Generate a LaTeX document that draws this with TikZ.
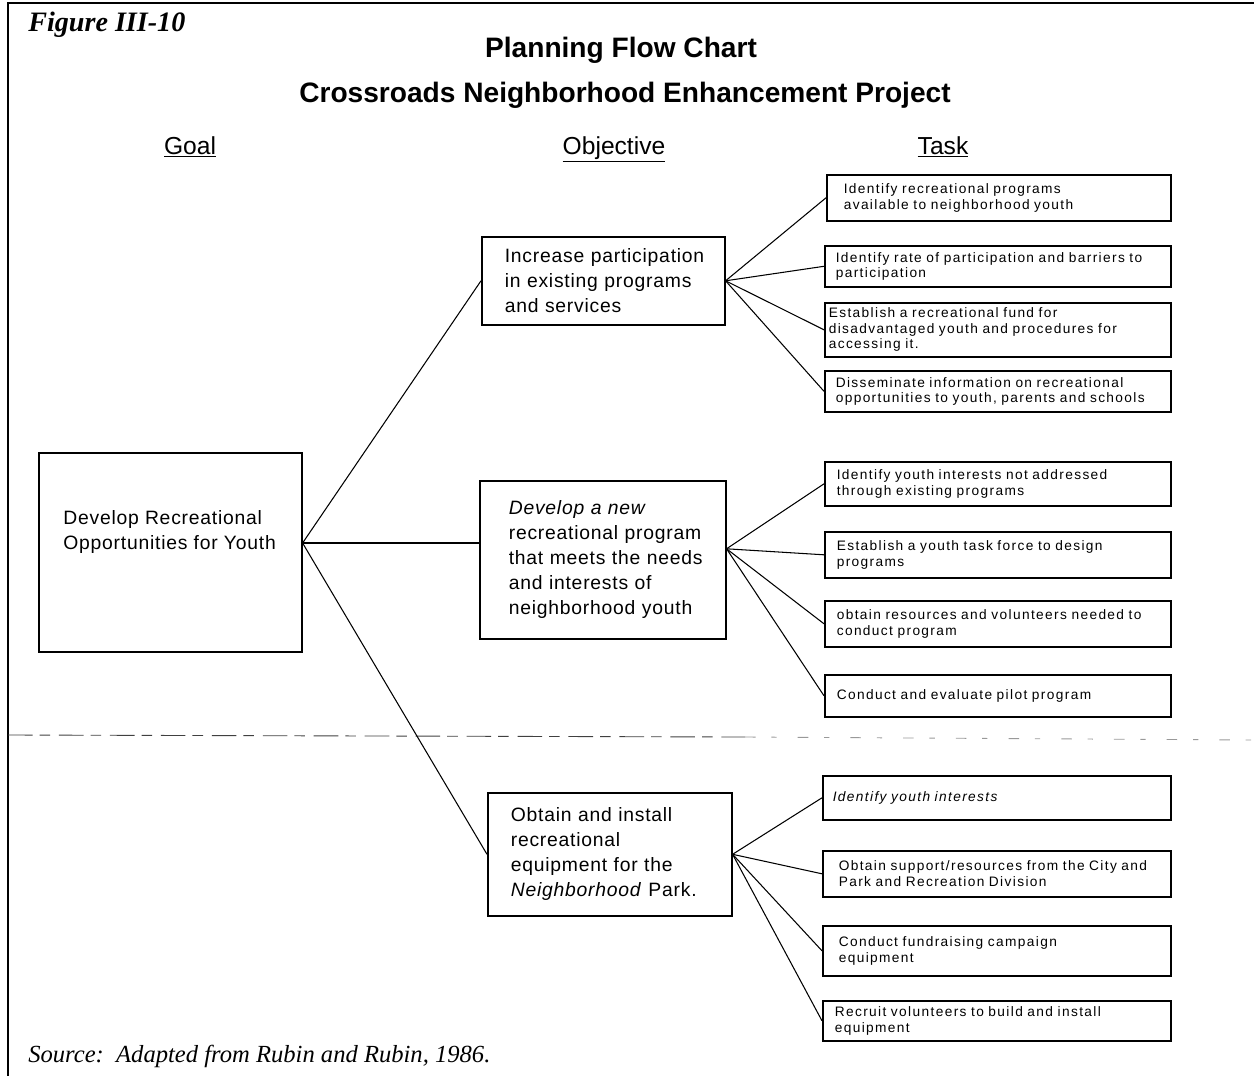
\documentclass[tikz,border=0pt]{standalone}
\usepackage{fontspec}
\usetikzlibrary{calc}
\setmainfont{Liberation Serif}
\newfontfamily\sansf{Liberation Sans}
\newfontfamily\objf[LetterSpace=4]{Liberation Sans}
\newfontfamily\taskf[LetterSpace=10]{Liberation Sans}

% \place{style}{name}{x}{y}{width}{height}{left margin}{text}
% positions and sizes in picture units (0.02cm)
\newcommand\place[8]{%
  \pgfmathsetmacro\boxW{#5*0.02}%
  \pgfmathsetmacro\boxH{#6*0.02}%
  \pgfmathsetmacro\boxM{#7*0.02}%
  \pgfmathsetmacro\boxI{(#5-#7)*0.02}%
  \node[#1, anchor=north west, minimum height=\boxH cm,
        text width=\boxW cm, inner xsep=0pt] (#2) at (#3,#4)
        {\noindent\hspace*{\boxM cm}\parbox[c]{\boxI cm}{\raggedright #8}};}

\begin{document}
\begin{tikzpicture}[x=0.02cm, y=-0.02cm,
  framestyle/.style={line width=1.6pt},
  titletext/.style={font=\sansf\bfseries\fontsize{16}{20}\selectfont},
  headtext/.style={font=\sansf\fontsize{14}{17}\selectfont, anchor=base},
  objfont/.style={font=\objf\fontsize{11}{14.2}\selectfont},
  objbox/.style={draw, line width=0.9pt, align=left, inner ysep=0pt, objfont},
  taskbox/.style={draw, line width=0.9pt, align=left, inner ysep=0pt,
    font=\taskf\fontsize{7.8}{8.8}\selectfont},
  link/.style={line width=0.6pt},
  sepline/.style={line width=0.5pt, draw=black!75,
    dash pattern=on 14pt off 4pt on 6pt off 5pt}
]
\useasboundingbox (0,0) rectangle (1254,1076);

% page frame (top and left rules)
\draw[framestyle] (1254,3) -- (8,3) -- (8,1076);

% captions
\node[anchor=base west, inner sep=0pt, font=\bfseries\itshape\fontsize{16}{19}\selectfont]
  (fig) at (28,31) {Figure III-10};
\node[titletext] (title1) at (621,50) {Planning Flow Chart};
\node[titletext] (title2) at (625,95) {Crossroads Neighborhood Enhancement Project};

\node[headtext] (hgoal) at (190,154) {\underline{Goal}};
\node[headtext] (hobj) at (614,154) {\underline{Objective}};
\node[headtext] (htask) at (943,154) {\underline{Task}};

% goal
\place{objbox}{goal}{38}{452}{263}{199}{25}{}
\node[anchor=west, align=left, inner sep=0pt, objfont]
  (goaltxt) at (63,532) {Develop Recreational\\Opportunities for Youth};

% objectives
\place{objbox}{o1}{481}{236}{243}{88}{23}{Increase participation\\in existing programs\\and services}
\place{objbox}{o2}{479}{480}{246}{158}{29}{\textit{Develop a new}\\recreational program\\that meets the needs\\and interests of\\neighborhood youth}
\place{objbox}{o3}{487}{792}{244}{123}{23}{Obtain and install\\recreational\\equipment for the\\\textit{Neighborhood} Park.}

% tasks
\place{taskbox}{t1}{826}{174}{344}{46}{17}{Identify recreational programs\\available to neighborhood youth}
\place{taskbox}{t2}{824}{245}{346}{41}{11}{Identify rate of participation and barriers to\\participation}
\place{taskbox}{t3}{824}{302}{346}{54}{4}{Establish a recreational fund for\\disadvantaged youth and procedures for\\accessing it.}
\place{taskbox}{t4}{824}{370}{346}{41}{11}{Disseminate information on recreational\\opportunities to youth, parents and schools}

\place{taskbox}{t5}{824}{461}{346}{44}{12}{Identify youth interests not addressed\\through existing programs}
\place{taskbox}{t6}{824}{531}{346}{46}{12}{Establish a youth task force to design\\programs}
\place{taskbox}{t7}{824}{600}{346}{46}{12}{obtain resources and volunteers needed to\\conduct program}
\place{taskbox}{t8}{824}{674}{346}{42}{12}{Conduct and evaluate pilot program}

\place{taskbox}{t9}{822}{775}{348}{44}{10}{\itshape Identify youth interests}
\place{taskbox}{t10}{822}{850}{348}{46}{16}{Obtain support/resources from the City and\\Park and Recreation Division}
\place{taskbox}{t11}{822}{925}{348}{50}{16}{Conduct fundraising campaign\\equipment}
\place{taskbox}{t12}{822}{1000}{348}{40}{12}{Recruit volunteers to build and install\\equipment}

% separator
\draw[sepline] (8,735) -- (745,737);
\draw[sepline, draw=black!40, dash pattern=on 6pt off 9pt on 3pt off 12pt] (745,737) -- (1254,740);

% goal to objectives
\coordinate (gfan) at (goal.east |- 0,543);
\draw[link] (gfan) -- (o1.west);
\draw[link] (gfan) -- (o2.west |- gfan);
\draw[link] (gfan) -- (o3.west);

% objectives to tasks
\draw[link] (o1.east) -- (t1.west);
\draw[link] (o1.east) -- (t2.west);
\draw[link] (o1.east) -- (t3.west);
\draw[link] (o1.east) -- (t4.west);

\coordinate (o2fan) at ($(o2.east)+(0,-11)$);
\draw[link] (o2fan) -- (t5.west);
\draw[link] (o2fan) -- (t6.west);
\draw[link] (o2fan) -- (t7.west);
\draw[link] (o2fan) -- (t8.west);

\draw[link] (o3.east) -- (t9.west);
\draw[link] (o3.east) -- (t10.west);
\draw[link] (o3.east) -- (t11.west);
\draw[link] (o3.east) -- (t12.west);

% source line
\node[anchor=base west, inner sep=0pt, font=\itshape\fontsize{14}{17}\selectfont]
  (src) at (28,1062) {Source:\ \ Adapted from Rubin and Rubin, 1986.};
\end{tikzpicture}
\end{document}
